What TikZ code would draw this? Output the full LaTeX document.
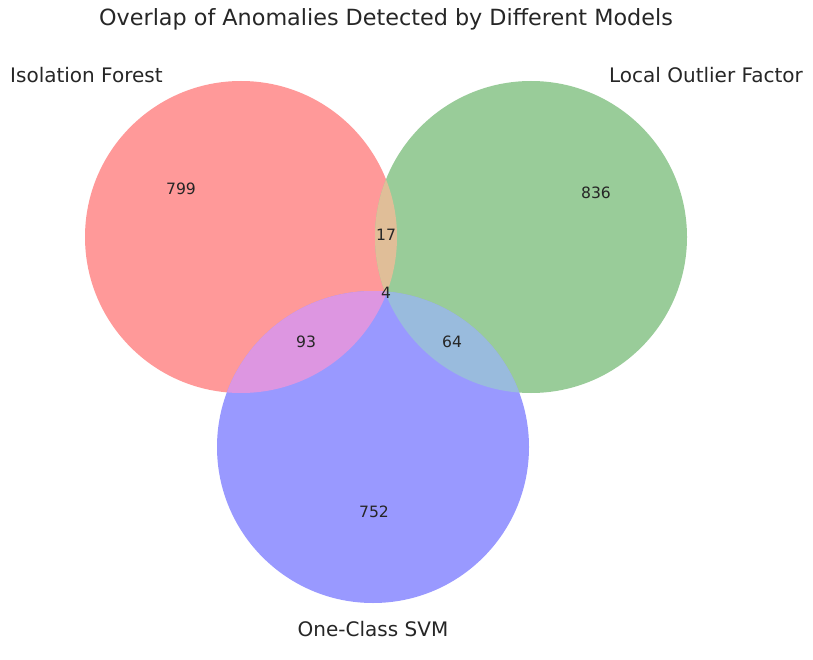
\documentclass[tikz,border=0pt]{standalone}
\usepackage{fontspec}
\setmainfont{DejaVu Sans}
\definecolor{cR}{RGB}{255,153,153}
\definecolor{cG}{RGB}{153,204,153}
\definecolor{cB}{RGB}{153,153,255}
\definecolor{cRG}{RGB}{224,190,152}
\definecolor{cRB}{RGB}{221,150,225}
\definecolor{cGB}{RGB}{153,187,221}
\definecolor{cRGB}{RGB}{200,172,196}
\definecolor{txt}{RGB}{38,38,38}
\tikzset{
  num/.style={text=txt, font=\fontsize{15.6}{18}\selectfont, inner sep=0pt},
  setlabel/.style={text=txt, font=\fontsize{20}{23}\selectfont, inner sep=0pt},
  titlestyle/.style={text=txt, font=\fontsize{22.3}{26}\selectfont, inner sep=0pt}
}
\begin{document}
\begin{tikzpicture}[x=1pt,y=-1pt]
\useasboundingbox[fill=white] (0,0) rectangle (813,660);
\def\rr{156pt}
\coordinate (cr) at (241,237);
\coordinate (cg) at (531,237);
\coordinate (cb) at (373,447);
\fill[cR] (cr) circle[radius=\rr];
\fill[cG] (cg) circle[radius=\rr];
\fill[cB] (cb) circle[radius=\rr];
\begin{scope}
  \clip (cr) circle[radius=\rr];
  \fill[cRG] (cg) circle[radius=\rr];
  \fill[cRB] (cb) circle[radius=\rr];
  \clip (cg) circle[radius=\rr];
  \fill[cRGB] (cb) circle[radius=\rr];
\end{scope}
\begin{scope}
  \clip (cg) circle[radius=\rr];
  \begin{scope}
    \clip (cb) circle[radius=\rr];
    \fill[cGB] (cg) circle[radius=\rr];
    \clip (cr) circle[radius=\rr];
    \fill[cRGB] (cb) circle[radius=\rr];
  \end{scope}
\end{scope}
\node[titlestyle] (title) at (386,19) {Overlap of Anomalies Detected by Different Models};
\node[setlabel, anchor=west] (lif) at (10,75) {Isolation Forest};
\node[setlabel, anchor=east] (llof) at (803,75) {Local Outlier Factor};
\node[setlabel] (lsvm) at (373,629) {One-Class SVM};
\node[num] (n100) at (181,189) {799};
\node[num] (n010) at (596,193) {836};
\node[num] (n110) at (386,235) {17};
\node[num] (n111) at (386,293) {4};
\node[num] (n101) at (306,342) {93};
\node[num] (n011) at (452,342) {64};
\node[num] (n001) at (374,512) {752};
\end{tikzpicture}
\end{document}
